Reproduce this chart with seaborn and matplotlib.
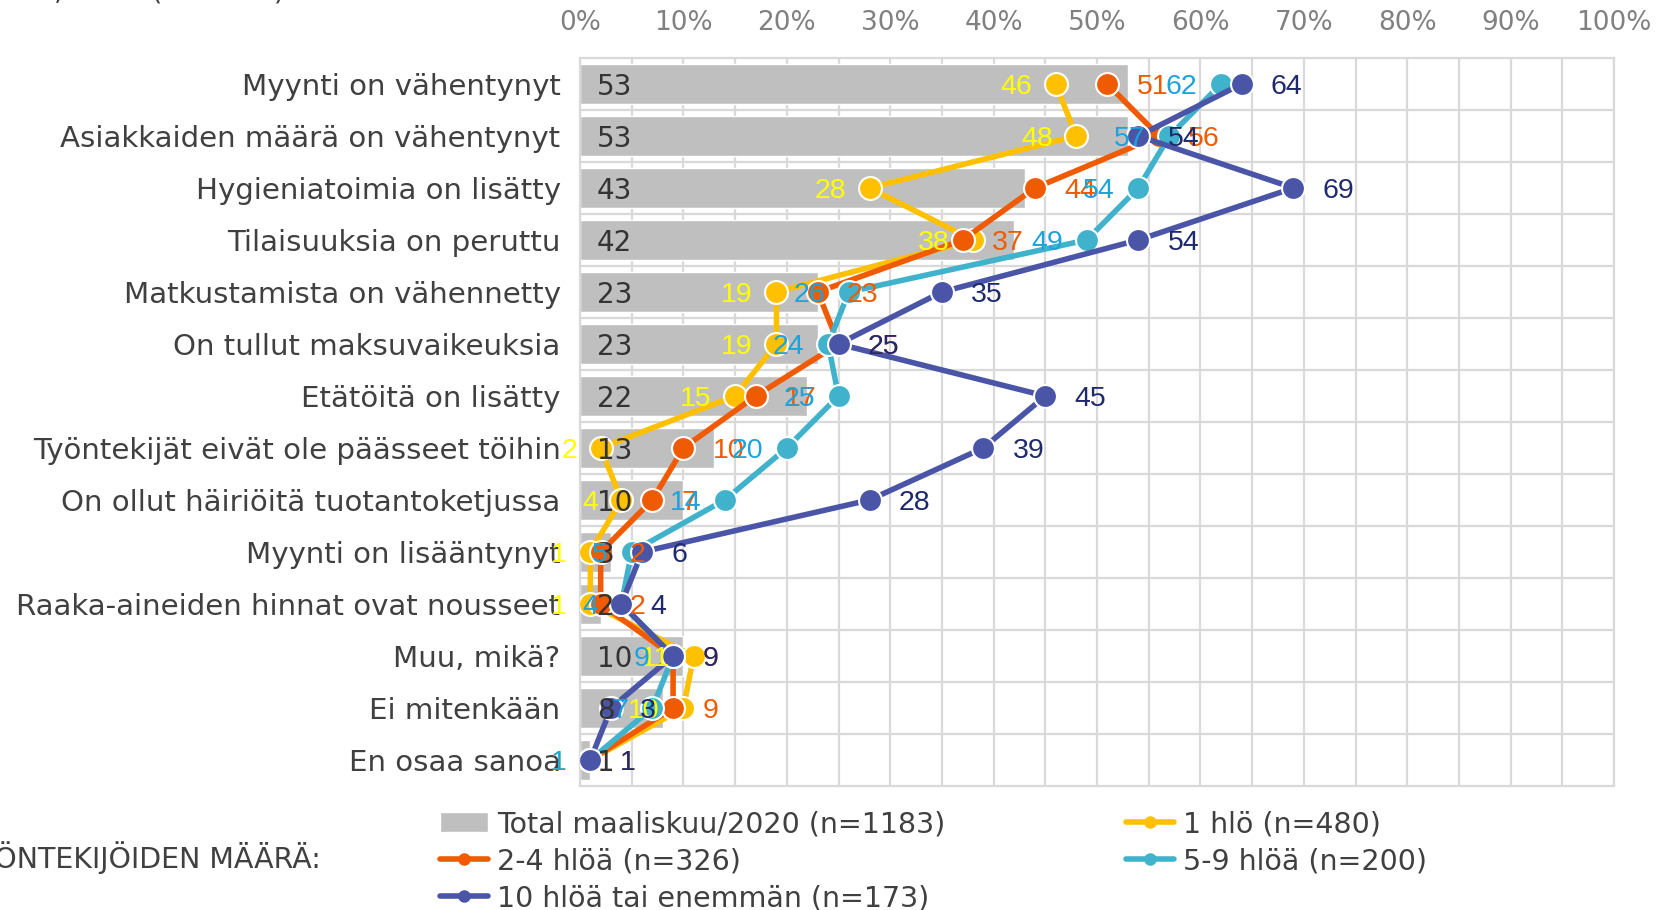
import numpy as np
import pandas as pd
import seaborn as sns
import matplotlib.pyplot as plt
from matplotlib.lines import Line2D
from matplotlib.patches import Patch

# categories, top to bottom
categories = [
    "Myynti on vähentynyt",
    "Asiakkaiden määrä on vähentynyt",
    "Hygieniatoimia on lisätty",
    "Tilaisuuksia on peruttu",
    "Matkustamista on vähennetty",
    "On tullut maksuvaikeuksia",
    "Etätöitä on lisätty",
    "Työntekijät eivät ole päässeet töihin",
    "On ollut häiriöitä tuotantoketjussa",
    "Myynti on lisääntynyt",
    "Raaka-aineiden hinnat ovat nousseet",
    "Muu, mikä?",
    "Ei mitenkään",
    "En osaa sanoa",
]

total = [53, 53, 43, 42, 23, 23, 22, 13, 10, 3, 2, 10, 8, 1]
hlo_1 = [46, 48, 28, 38, 19, 19, 15, 2, 4, 1, 1, 11, 10, 1]
hlo_2_4 = [51, 56, 44, 37, 23, 25, 17, 10, 7, 2, 2, 9, 9, 1]
hlo_5_9 = [62, 57, 54, 49, 26, 24, 25, 20, 14, 5, 4, 9, 7, 1]
hlo_10 = [64, 54, 69, 54, 35, 25, 45, 39, 28, 6, 4, 9, 3, 1]

series_names = ["1 hlö (n=480)", "2-4 hlöä (n=326)", "5-9 hlöä (n=200)",
                "10 hlöä tai enemmän (n=173)"]
total_name = "Total maaliskuu/2020 (n=1183)"
xticks = list(range(0, 101, 10))

line_colors = ["#ffc000", "#f05a00", "#40b2cc", "#4a55a8"]
label_colors = ["#ffff00", "#f05a00", "#1aa3dc", "#1f2a6e"]
label_side = [-17, 21, -17, 21]  # yellow/cyan labels left of the marker, others right

sns.set_theme(style="white")
plt.rcParams["font.family"] = ["DejaVu Sans"]

fig = plt.figure(figsize=(16.6, 9.1), dpi=100)
ax = fig.add_axes([0.3494, 0.1363, 0.6229, 0.8])

pos = np.arange(len(categories))

# grid
for v in range(0, 101, 5):
    ax.axvline(v, color="#d9d9d9", lw=1.6, zorder=0)
for b in pos[:-1] + 0.5:
    ax.axhline(b, color="#d9d9d9", lw=1.6, zorder=0)

bars = pd.DataFrame({"category": categories, "value": total})
sns.barplot(data=bars, x="value", y="category", orient="h", color="#bfbfbf",
            saturation=1, width=0.77, ax=ax, zorder=1)

all_series = [hlo_1, hlo_2_4, hlo_5_9, hlo_10]
for k, vals in enumerate(all_series):
    d = pd.DataFrame({"pos": pos, "value": vals})
    sns.lineplot(data=d, x="value", y="pos", orient="y", sort=True, ax=ax,
                 color=line_colors[k], lw=4, marker="o", markersize=16.5,
                 markeredgecolor="white", markeredgewidth=1.5, zorder=3 + k,
                 legend=False)

# data labels
for i, v in enumerate(total):
    ax.annotate(str(v), xy=(0, i), xytext=(12, 0), textcoords="offset points",
                ha="left", va="center_baseline", fontsize=20, color="#333333",
                zorder=10)
for k, vals in enumerate(all_series):
    for i, v in enumerate(vals):
        off = label_side[k]
        ax.annotate(str(v), xy=(v, i), xytext=(off, 0),
                    textcoords="offset points",
                    ha="right" if off < 0 else "left", va="center_baseline",
                    fontsize=20.5, family=["Liberation Sans", "DejaVu Sans"],
                    color=label_colors[k], zorder=11 + k)

ax.set_xlim(0, 100)
ax.set_ylim(len(categories) - 0.5, -0.5)
ax.xaxis.tick_top()
ax.set_xticks(xticks)
ax.set_xticklabels([f"{t}%" for t in xticks])
ax.tick_params(axis="x", length=0, pad=16, labelsize=19, labelcolor="#808080")
ax.tick_params(axis="y", length=0, pad=14, labelsize=21.1, labelcolor="#404040")
ax.set_xlabel("")
ax.set_ylabel("")
ax.grid(False)
for s in ax.spines.values():
    s.set_color("#d9d9d9")
    s.set_linewidth(1.6)

# cut-off title at the very top and group caption at the bottom
fig.text(285 / 1660, 1.0, "Vaikutukset yritykseen, 2020 (n=1183)",
         ha="right", va="baseline", fontsize=20, color="#404040")
fig.text(321 / 1660, 1 - 858 / 910, "TYÖNTEKIJÖIDEN MÄÄRÄ:",
         ha="right", va="center", fontsize=20.5, color="#404040")

# legend, row-major order: Total, 1 hlö / 2-4, 5-9 / 10+
def line_handle(c, name):
    return Line2D([0], [0], color=c, lw=4, marker="o", markersize=8,
                  markeredgecolor=c, label=name)

handles = [
    Patch(facecolor="#bfbfbf", label=total_name),
    line_handle(line_colors[1], series_names[1]),
    line_handle(line_colors[3], series_names[3]),
    line_handle(line_colors[0], series_names[0]),
    line_handle(line_colors[2], series_names[2]),
]
fig.legend(handles=handles, ncol=2, loc="upper left",
           bbox_to_anchor=(440 / 1660, 1 - 810 / 910), frameon=False,
           fontsize=20.5, labelcolor="#404040", handlelength=1.7,
           handletextpad=0.3, labelspacing=0.32, columnspacing=6.35,
           borderpad=0, borderaxespad=0)

fig.savefig("out.png", dpi=100)
